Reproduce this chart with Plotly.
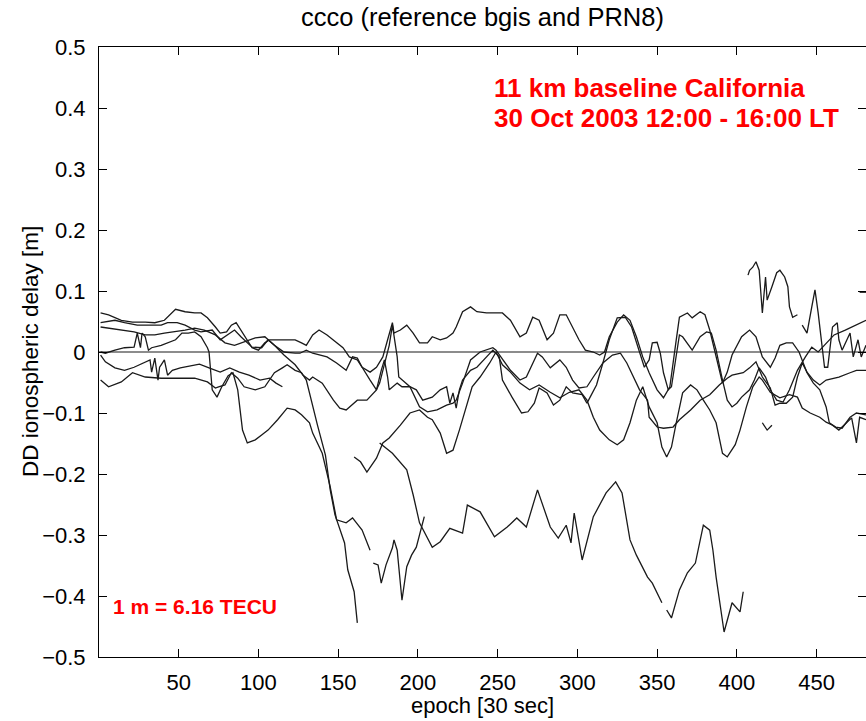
import plotly.graph_objects as go

# ---------------- data (epoch [30 s], DD ionospheric delay [m]) ----------------
sat1_epoch = [1,6,14,21,29,35,41,48,54,60,64,68,73,76,80,83,86,90,93,96,100,104,107,115,123,127,130,134,138,143,
              147,153,157,162,165,170,174,178,181,184,185,189,193,197,201,206,209,214,218,222,224,228,233,237,243,247,253,258,264,268,
              272,276,281,285,289,293,297,301,305,310,314,317,320,325,329,333,337,341,345,350,354,358,362,364,369,372,377,380,383,386,
              389,391,394,397,403,408,412,416,421,424,427,431,435,439,444,448,452,456,458,462,466,471,475,481]
sat1_dd = [0.064,0.061,0.052,0.049,0.049,0.048,0.052,0.070,0.066,0.064,0.064,0.056,0.041,0.031,0.033,0.044,0.048,0.031,0.020,0.007,
           0.003,0.015,0.020,0.020,0.020,0.015,0.011,0.028,0.036,0.028,0.020,0.007,-0.008,-0.013,-0.025,-0.033,-0.025,-0.008,0.020,0.048,
           0.031,0.036,0.044,0.031,0.015,0.015,0.025,0.020,0.023,0.031,0.041,0.066,0.074,0.066,0.064,0.064,0.064,0.052,0.025,0.031,
           0.057,0.052,0.020,0.031,0.061,0.061,0.041,0.020,0.003,0.000,-0.005,0.000,0.025,0.049,0.061,0.052,0.025,-0.008,-0.034,-0.062,
           -0.075,-0.057,0.020,0.057,0.064,0.056,0.066,0.061,0.036,0.003,-0.034,-0.051,-0.033,-0.005,0.025,0.036,0.025,-0.008,-0.025,-0.010,
           0.011,0.015,0.015,0.000,-0.034,-0.051,-0.062,-0.090,-0.116,-0.123,-0.125,-0.107,-0.100,-0.103]

sat2_epoch = [1,10,16,24,33,39,43,49,54,60,64,71,76,79,85,89,96,102,106,110,116,123,126,130,134,143,149,155,159,162,
              165,170,174,176,180,182,184,185,187,188,190,195,201,206,212,218,222,224,228,233,239,247,249,258,264,268,275,278,283,289,
              293,297,301,306,310,316,322,327,331,335,339,344,345,350,354,360,364,371,377,383,389,394,397,404,408,412,416,421,424,427,
              431,435,438,441,444,448,452,456,460,464,471,475,481]
sat2_dd = [0.048,0.052,0.048,0.044,0.044,0.044,0.048,0.048,0.044,0.036,0.033,0.036,0.020,0.025,0.036,0.025,0.008,0.007,0.020,0.011,
           0.000,-0.002,-0.002,0.003,-0.002,-0.008,-0.018,-0.030,-0.008,-0.010,-0.025,-0.046,-0.062,-0.051,-0.008,0.011,0.044,0.028,-0.008,-0.041,
           -0.046,-0.057,-0.090,-0.098,-0.095,-0.087,-0.084,-0.079,-0.051,-0.013,0.000,0.007,0.003,-0.030,-0.046,-0.041,-0.002,-0.008,-0.026,-0.013,
           -0.025,-0.046,-0.059,-0.057,-0.041,-0.018,-0.005,-0.002,-0.018,-0.041,-0.062,-0.079,-0.107,-0.123,-0.125,-0.123,-0.111,-0.095,-0.079,-0.070,
           -0.054,-0.043,-0.038,-0.034,-0.026,-0.016,-0.041,-0.059,-0.087,-0.084,-0.084,-0.074,-0.041,-0.018,-0.033,-0.046,-0.054,-0.046,-0.043,-0.041,
           -0.034,-0.030,-0.030]

sat3_epoch = [1,7,16,22,29,35,41,47,54,60,66,73,79,85,91,98,104,110,116,123,128,132,134,140,147,151,155,162,168,174,
              177,179,181,182,187,190,195,199,203,209,214,218,220,222,224,226,228,233,237,243,247,251,253,259,265,269,273,276,281,285,
              289,293,297,303,306,308,312,316,320,325,330,334,338,342,345,347,350,352,354,357,359,362,364,366,372,377,381,384,387,391,
              394,397,400,403,408,411,414,418,421,425,429,433,438,443,447,451,455,461,468,474,481]
sat3_dd = [0.041,0.039,0.036,0.033,0.028,0.028,0.031,0.033,0.036,0.039,0.036,0.028,0.015,0.011,0.016,0.023,0.025,0.011,-0.005,-0.021,
           -0.038,-0.046,-0.041,-0.051,-0.079,-0.092,-0.095,-0.079,-0.079,-0.062,-0.030,-0.013,-0.041,-0.062,-0.051,-0.057,-0.057,-0.062,-0.079,-0.074,
           -0.062,-0.057,-0.084,-0.067,-0.092,-0.062,-0.046,-0.030,-0.025,-0.008,0.003,-0.008,-0.046,-0.074,-0.100,-0.098,-0.084,-0.059,-0.067,-0.087,
           -0.079,-0.057,-0.067,-0.070,-0.084,-0.074,-0.054,-0.018,0.020,0.056,0.057,0.041,0.008,-0.025,-0.013,0.015,0.016,-0.002,-0.034,-0.062,
           -0.057,-0.008,0.028,0.025,0.003,0.025,0.033,0.031,0.003,-0.046,-0.079,-0.090,-0.084,-0.074,-0.062,-0.046,-0.026,-0.041,-0.062,-0.079,
           -0.082,-0.062,-0.030,-0.008,0.008,0.000,0.011,0.028,0.036,0.044,0.052]

sat4_epoch = [1,4,10,16,22,24,26,27,29,31,33,39,48,52,56,60,64,68,69,71,74,77,81,84,87,90,93,98,102,106,
              112,118,123,127,132,134,140,145,149,155,159,165,170,None,172,175,177,180,184,185,187,190,193,196,199,202,204]
sat4_dd = [0.000,-0.002,0.003,0.007,0.008,0.031,0.007,0.031,0.025,0.003,0.007,0.011,0.020,0.031,0.031,0.033,0.025,0.007,0.000,-0.062,
           -0.074,-0.057,-0.039,-0.034,-0.062,-0.128,-0.149,-0.144,-0.136,-0.128,-0.111,-0.092,-0.095,-0.103,-0.116,-0.133,-0.166,-0.221,-0.275,-0.280,
           -0.272,-0.292,-0.325,None,-0.346,-0.349,-0.379,-0.349,-0.321,-0.308,-0.325,-0.407,-0.352,-0.333,-0.320,-0.292,-0.270]

sat5_epoch = [1,4,10,16,22,29,32,33,35,37,38,39,41,43,46,51,57,63,69,76,82,88,94,101,107,111,115]
sat5_dd = [-0.005,-0.016,-0.026,-0.030,-0.025,-0.016,-0.013,-0.033,-0.010,-0.046,-0.025,-0.021,-0.013,-0.038,-0.030,-0.026,-0.023,-0.020,
           -0.026,-0.033,-0.026,-0.033,-0.038,-0.046,-0.043,-0.051,-0.057]

sat6_epoch = [1,6,14,21,29,39,49,60,68,73,75,79,83,87,91,98,104,110,115,118,123,127,130,133,137,142,145,148,151,154,156,158,160,162]
sat6_dd = [-0.046,-0.057,-0.049,-0.034,-0.041,-0.043,-0.043,-0.043,-0.049,-0.059,-0.057,-0.054,-0.034,-0.043,-0.057,-0.062,-0.057,-0.034,
           -0.026,-0.021,-0.030,-0.034,-0.046,-0.079,-0.120,-0.169,-0.226,-0.267,-0.292,-0.313,-0.357,-0.377,-0.393,-0.444]

sat7_epoch = [160,164,168,171,174,178,182,189,195,201,206,209,214,218,222,226,231,234,239,245,249,253,258,264,270,276,283,289,295,301,
              306,310,314,320,325,329,333,337,341,345,350,353,356,359,362,364,366,371,375,379,383,387,391,394,399,402,406,410,414,416,
              421,427,433,438,441,446,452,456,460,464,469,472,475,477,481]
sat7_dd = [-0.172,-0.180,-0.197,-0.185,-0.174,-0.149,-0.141,-0.120,-0.100,-0.095,-0.107,-0.111,-0.133,-0.166,-0.161,-0.128,-0.084,-0.057,-0.041,-0.018,
           0.000,-0.021,-0.033,-0.051,-0.062,-0.054,-0.066,-0.075,-0.066,-0.062,-0.079,-0.107,-0.128,-0.144,-0.152,-0.144,-0.116,-0.079,-0.057,-0.090,
           -0.116,-0.156,-0.172,-0.156,-0.116,-0.090,-0.067,-0.054,-0.062,-0.079,-0.095,-0.116,-0.166,-0.172,-0.152,-0.128,-0.090,-0.057,-0.041,-0.046,
           -0.066,-0.075,-0.070,-0.074,-0.092,-0.100,-0.107,-0.115,-0.120,-0.128,-0.116,-0.108,-0.149,-0.107,-0.111]

sat8_epoch = [407,408,410,412,414,416,418,419,422,425,427,430,432,433,435,438,None,441,444,447,449,451,453,455,457,460,463,464,466,471,
              473,476,478,481]
sat8_dd = [0.126,0.134,0.139,0.148,0.134,0.064,0.123,0.085,0.107,0.130,0.134,0.123,0.107,0.074,0.057,0.061,None,0.044,0.031,0.074,
           0.102,0.064,0.020,-0.025,-0.025,0.041,0.048,0.020,0.003,0.031,-0.008,0.020,-0.008,0.011]

sat9_epoch = [176,184,193,197,201,209,214,220,228,231,239,248,256,262,268,275,283,288,293,296,298,303,310,318,324,328,333,337,344,347,
              353,None,356,359,364,369,374,379,383,385,387,392,397,402,404]
sat9_dd = [-0.149,-0.166,-0.193,-0.234,-0.280,-0.320,-0.311,-0.289,-0.297,-0.251,-0.262,-0.303,-0.287,-0.272,-0.287,-0.226,-0.287,-0.305,-0.284,-0.313,
           -0.264,-0.341,-0.270,-0.231,-0.213,-0.231,-0.308,-0.333,-0.369,-0.379,-0.411,None,-0.423,-0.436,-0.390,-0.362,-0.346,-0.284,-0.292,-0.325,
           -0.369,-0.459,-0.411,-0.426,-0.393]

frag_epoch = [416,418,419,422,None,477,481]
frag_dd = [-0.116,-0.125,-0.128,-0.120,None,0.098,0.098]

x_ticks = [50, 100, 150, 200, 250, 300, 350, 400, 450]
y_ticks = [-0.5, -0.4, -0.3, -0.2, -0.1, 0, 0.1, 0.2, 0.3, 0.4, 0.5]
y_tick_text = ["\u22120.5", "\u22120.4", "\u22120.3", "\u22120.2", "\u22120.1", "0", "0.1", "0.2", "0.3", "0.4", "0.5"]

series = [(sat1_epoch, sat1_dd), (sat2_epoch, sat2_dd), (sat3_epoch, sat3_dd), (sat4_epoch, sat4_dd),
          (sat5_epoch, sat5_dd), (sat6_epoch, sat6_dd), (sat7_epoch, sat7_dd), (sat8_epoch, sat8_dd),
          (sat9_epoch, sat9_dd), (frag_epoch, frag_dd)]

# ---------------- figure ----------------
FONT = "Liberation Sans, Arial, Helvetica, sans-serif"
fig = go.Figure()
fig.add_hline(y=0, line=dict(color="#8c8c8c", width=2.2), layer="below")
for ex, ey in series:
    fig.add_trace(go.Scatter(x=ex, y=ey, mode="lines", connectgaps=False,
                             line=dict(color="#1a1a1a", width=1.3),
                             showlegend=False, hoverinfo="skip"))

fig.update_layout(
    width=866, height=721,
    margin=dict(l=99, r=0, t=47, b=64),
    plot_bgcolor="white", paper_bgcolor="white",
    font=dict(family=FONT, size=22, color="black"),
    showlegend=False,
    title=dict(text="ccco (reference bgis and PRN8)", x=0.5, xref="paper", xanchor="center",
               y=1 - 17 / 721, yref="container", yanchor="middle",
               font=dict(family=FONT, size=25.5, color="black")),
)
fig.update_xaxes(range=[0, 481], tickvals=x_ticks, ticks="inside", ticklen=8, tickcolor="black",
                 showline=True, linecolor="black", linewidth=1, mirror="ticks",
                 showgrid=False, zeroline=False, tickfont=dict(size=22), ticklabelstandoff=6)
fig.update_yaxes(range=[-0.5, 0.5], tickvals=y_ticks, ticktext=y_tick_text, ticks="inside", ticklen=8,
                 tickcolor="black", showline=True, linecolor="black", linewidth=1, mirror="ticks",
                 showgrid=False, zeroline=False, tickfont=dict(size=22), ticklabelstandoff=8)

fig.add_annotation(text="epoch [30 sec]", xref="paper", yref="paper", x=0.5, y=(657 - 706) / 610,
                   xanchor="center", yanchor="middle", showarrow=False, font=dict(size=22))
fig.add_annotation(text="DD ionospheric delay [m]", xref="paper", yref="paper", x=(30 - 99) / 767, y=0.5,
                   xanchor="center", yanchor="middle", textangle=-90, showarrow=False, font=dict(size=22.5))
fig.add_annotation(text="<b>11 km baseline California</b>", xref="x", yref="y", x=246.5, y=0.433,
                   xanchor="left", yanchor="middle", showarrow=False, font=dict(size=26, color="#ff0000"))
fig.add_annotation(text="<b>30 Oct 2003 12:00 - 16:00 LT</b>", xref="x", yref="y", x=246.5, y=0.384,
                   xanchor="left", yanchor="middle", showarrow=False, font=dict(size=26, color="#ff0000"))
fig.add_annotation(text="<b>1 m = 6.16 TECU</b>", xref="x", yref="y", x=7.5, y=-0.418,
                   xanchor="left", yanchor="middle", showarrow=False, font=dict(size=21, color="#ff0000"))

fig.write_html("out.html")
